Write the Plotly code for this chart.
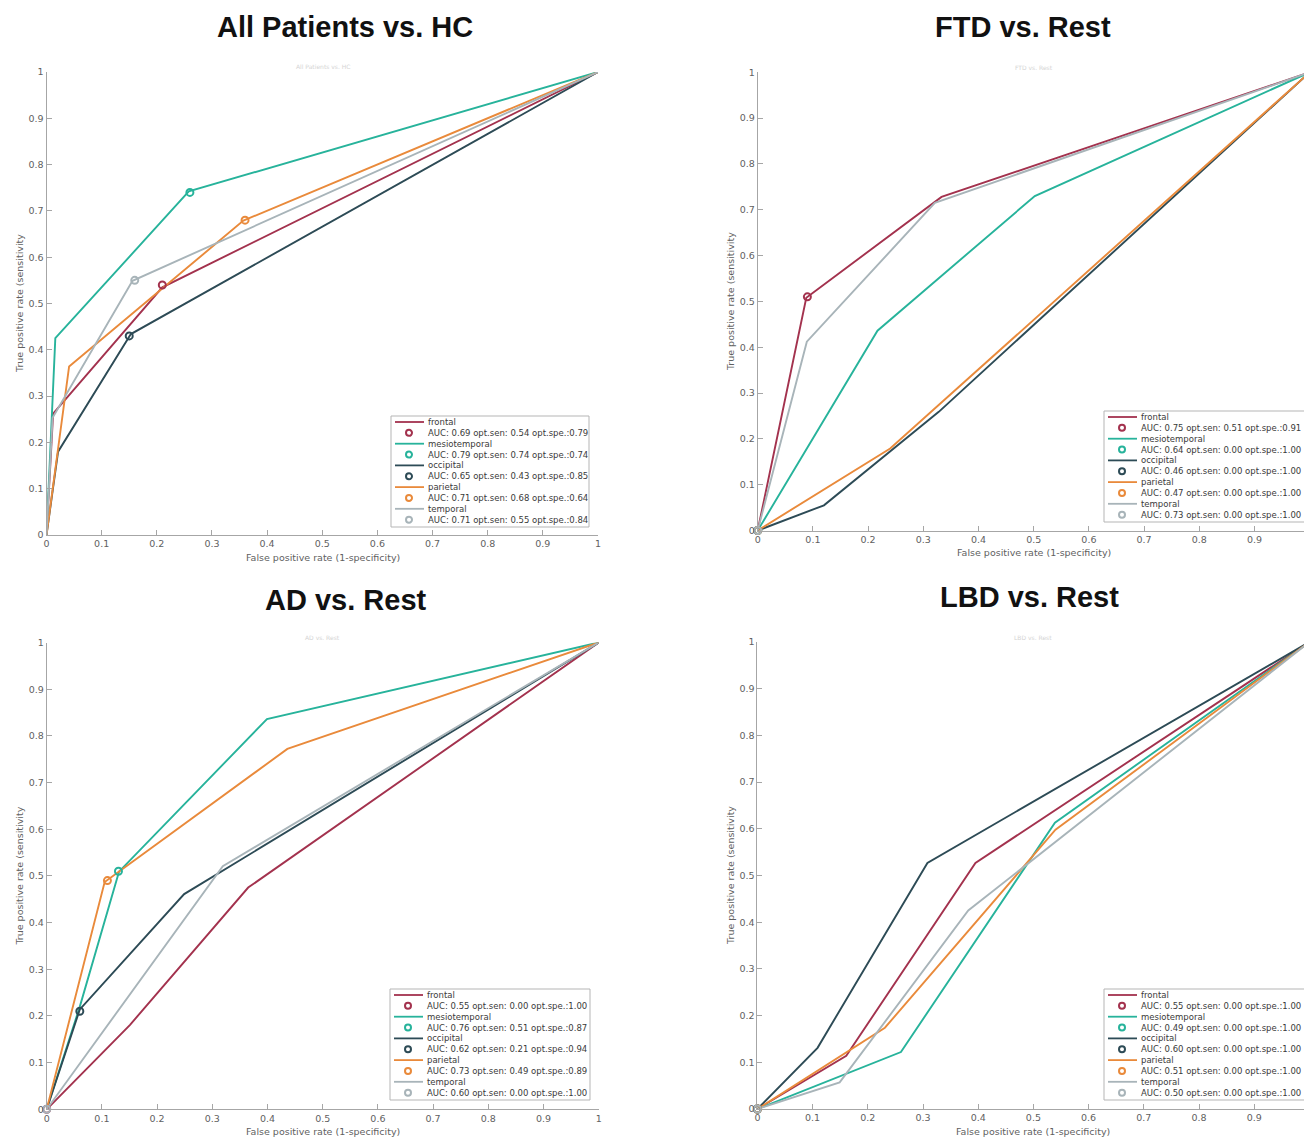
import plotly.graph_objects as go

W, H = 1304, 1138

# ---------------- data ----------------
regions = ["frontal", "mesiotemporal", "occipital", "parietal", "temporal"]
colors = ["#a3324e", "#27b39b", "#2d4b56", "#e98a3b", "#a8b4b9"]
titles = ["All Patients vs. HC", "FTD vs. Rest", "AD vs. Rest", "LBD vs. Rest"]

# All Patients vs. HC  (ROC vertices per region)
hc_fpr = [[0, 0.012, 0.21, 1], [0, 0.016, 0.258, 1], [0, 0.021, 0.153, 1],
          [0, 0.041, 0.357, 1], [0, 0.011, 0.156, 1]]
hc_tpr = [[0, 0.262, 0.535, 1], [0, 0.425, 0.742, 1], [0, 0.18, 0.434, 1],
          [0, 0.364, 0.679, 1], [0, 0.253, 0.549, 1]]
hc_auc = [0.69, 0.79, 0.65, 0.71, 0.71]
hc_sen = [0.54, 0.74, 0.43, 0.68, 0.55]
hc_spe = [0.79, 0.74, 0.85, 0.64, 0.84]

# FTD vs. Rest
ftd_fpr = [[0, 0.088, 0.333, 1], [0, 0.217, 0.502, 1], [0, 0.12, 0.328, 1],
           [0, 0.24, 1], [0, 0.089, 0.321, 1]]
ftd_tpr = [[0, 0.508, 0.728, 1], [0, 0.436, 0.73, 1], [0, 0.055, 0.259, 1],
           [0, 0.179, 1], [0, 0.412, 0.715, 1]]
ftd_auc = [0.75, 0.64, 0.46, 0.47, 0.73]
ftd_sen = [0.51, 0.00, 0.00, 0.00, 0.00]
ftd_spe = [0.91, 1.00, 1.00, 1.00, 1.00]

# AD vs. Rest
ad_fpr = [[0, 0.151, 0.365, 1], [0, 0.06, 0.131, 0.399, 1], [0, 0.06, 0.249, 1],
          [0, 0.105, 0.436, 1], [0, 0.319, 1]]
ad_tpr = [[0, 0.181, 0.475, 1], [0, 0.22, 0.509, 0.836, 1], [0, 0.214, 0.461, 1],
          [0, 0.487, 0.772, 1], [0, 0.521, 1]]
ad_auc = [0.55, 0.76, 0.62, 0.73, 0.60]
ad_sen = [0.00, 0.51, 0.21, 0.49, 0.00]
ad_spe = [1.00, 0.87, 0.94, 0.89, 1.00]

# LBD vs. Rest
lbd_fpr = [[0, 0.161, 0.395, 1], [0, 0.26, 0.539, 1], [0, 0.109, 0.308, 1],
           [0, 0.231, 0.54, 1], [0, 0.149, 0.382, 1]]
lbd_tpr = [[0, 0.114, 0.527, 1], [0, 0.122, 0.613, 1], [0, 0.131, 0.527, 1],
           [0, 0.174, 0.598, 1], [0, 0.057, 0.425, 1]]
lbd_auc = [0.55, 0.49, 0.60, 0.51, 0.50]
lbd_sen = [0.00, 0.00, 0.00, 0.00, 0.00]
lbd_spe = [1.00, 1.00, 1.00, 1.00, 1.00]

x_title = "False positive rate (1-specificity)"
y_title = "True positive rate (sensitivity"

# ---------------- layout helpers ----------------
def px(x):
    return x / W


def py(y):
    return 1 - y / H


panels = [
    dict(fpr=hc_fpr, tpr=hc_tpr, auc=hc_auc, sen=hc_sen, spe=hc_spe,
         ax=(46.5, 598.0, 72.0, 535.0), xmax=1.0,
         title_xy=(345, 27), leg=(391, 416, 198, 111)),
    dict(fpr=ftd_fpr, tpr=ftd_tpr, auc=ftd_auc, sen=ftd_sen, spe=ftd_spe,
         ax=(757.7, 1304.0, 72.3, 530.5), xmax=(1304 - 757.7) / 552.0,
         title_xy=(1023, 27), leg=(1104, 411, 215, 111)),
    dict(fpr=ad_fpr, tpr=ad_tpr, auc=ad_auc, sen=ad_sen, spe=ad_spe,
         ax=(46.7, 598.7, 642.5, 1109.3), xmax=1.0,
         title_xy=(346, 600), leg=(390, 989, 200, 111)),
    dict(fpr=lbd_fpr, tpr=lbd_tpr, auc=lbd_auc, sen=lbd_sen, spe=lbd_spe,
         ax=(757.4, 1304.0, 642.0, 1109.0), xmax=(1304 - 757.4) / 552.0,
         title_xy=(1029, 597), leg=(1104, 989, 215, 111)),
]

fig = go.Figure()
shapes = []
annotations = []

axis_style = dict(
    showline=True, linecolor="#a6a6a6", linewidth=1,
    ticks="inside", ticklen=5, tickcolor="#a6a6a6", tickwidth=1,
    tickfont=dict(family="DejaVu Sans", size=9.5, color="#5f5f5f"),
    showgrid=False, zeroline=False, dtick=0.1, tick0=0,
    automargin=False, fixedrange=True,
)

for k, p in enumerate(panels):
    xa = "x" if k == 0 else f"x{k + 1}"
    ya = "y" if k == 0 else f"y{k + 1}"
    xl, xr, yt, yb = p["ax"]
    fig.update_layout(**{
        ("xaxis" if k == 0 else f"xaxis{k + 1}"): dict(
            axis_style, domain=[px(xl), px(xr)], range=[0, p["xmax"]],
            anchor=ya),
        ("yaxis" if k == 0 else f"yaxis{k + 1}"): dict(
            axis_style, domain=[py(yb), py(yt)], range=[0, 1], anchor=xa),
    })
    # curves
    for i, r in enumerate(regions):
        fig.add_trace(go.Scatter(
            x=p["fpr"][i], y=p["tpr"][i], mode="lines", name=r,
            line=dict(color=colors[i], width=1.9), xaxis=xa, yaxis=ya,
            showlegend=False, cliponaxis=False, hoverinfo="skip"))
    # optimal operating points
    for i, r in enumerate(regions):
        fig.add_trace(go.Scatter(
            x=[1 - p["spe"][i]], y=[p["sen"][i]], mode="markers",
            marker=dict(symbol="circle-open", size=7, color=colors[i],
                        line=dict(width=2, color=colors[i])),
            xaxis=xa, yaxis=ya, showlegend=False, cliponaxis=False,
            hoverinfo="skip"))

    # titles
    tx, ty = p["title_xy"]
    annotations.append(dict(
        text=f"<b>{titles[k]}</b>", x=px(tx), y=py(ty), xref="paper",
        yref="paper", xanchor="center", yanchor="middle", showarrow=False,
        font=dict(family="Liberation Sans", size=29, color="#111111")))
    # faint original sub-title
    annotations.append(dict(
        text=titles[k], x=px((xl + xl + 552) / 2), y=py(yt - 5), xref="paper",
        yref="paper", xanchor="center", yanchor="middle", showarrow=False,
        font=dict(family="DejaVu Sans", size=6, color="#d4d4d4")))
    # axis titles
    annotations.append(dict(
        text=x_title, x=px(xl + 276), y=py(yb + 22), xref="paper",
        yref="paper", xanchor="center", yanchor="middle", showarrow=False,
        font=dict(family="DejaVu Sans", size=9.5, color="#5f5f5f")))
    annotations.append(dict(
        text=y_title, x=px(xl - 27), y=py((yt + yb) / 2), xref="paper",
        yref="paper", xanchor="center", yanchor="middle", showarrow=False,
        textangle=-90,
        font=dict(family="DejaVu Sans", size=9.5, color="#5f5f5f")))

    # legend box
    bx, by, bw, bh = p["leg"]
    shapes.append(dict(type="rect", xref="paper", yref="paper",
                       x0=px(bx), x1=px(bx + bw), y0=py(by), y1=py(by + bh),
                       line=dict(color="#b5b5b5", width=1),
                       fillcolor="white", layer="above"))
    step = 10.85
    for i, r in enumerate(regions):
        yl = by + 6 + 2 * i * step
        ym = by + 6 + (2 * i + 1) * step
        shapes.append(dict(type="line", xref="paper", yref="paper",
                           x0=px(bx + 4), x1=px(bx + 33), y0=py(yl), y1=py(yl),
                           line=dict(color=colors[i], width=1.8), layer="above"))
        shapes.append(dict(type="circle", xref="paper", yref="paper",
                           xsizemode="pixel", ysizemode="pixel",
                           xanchor=px(bx + 18), yanchor=py(ym),
                           x0=-3, x1=3, y0=-3, y1=3,
                           line=dict(color=colors[i], width=2), layer="above"))
        annotations.append(dict(
            text=r, x=px(bx + 35), y=py(yl), xref="paper", yref="paper",
            xanchor="left", yanchor="middle", showarrow=False,
            font=dict(family="DejaVu Sans", size=8.5, color="#3a3a3a")))
        label = (f"AUC: {p['auc'][i]:.2f} opt.sen: {p['sen'][i]:.2f} "
                 f"opt.spe.:{p['spe'][i]:.2f}")
        annotations.append(dict(
            text=label, x=px(bx + 35), y=py(ym), xref="paper", yref="paper",
            xanchor="left", yanchor="middle", showarrow=False,
            font=dict(family="DejaVu Sans", size=8.5, color="#3a3a3a")))

fig.update_layout(
    width=W, height=H, margin=dict(l=0, r=0, t=0, b=0),
    paper_bgcolor="white", plot_bgcolor="white",
    font=dict(family="DejaVu Sans"),
    showlegend=False, shapes=shapes, annotations=annotations,
)

fig.write_html(
    "out.html",
    config={"displayModeBar": False, "staticPlot": True},
    post_script=("document.body.style.margin='0';"
                 "document.documentElement.style.overflow='hidden';"
                 "document.body.style.overflow='hidden';"),
)
